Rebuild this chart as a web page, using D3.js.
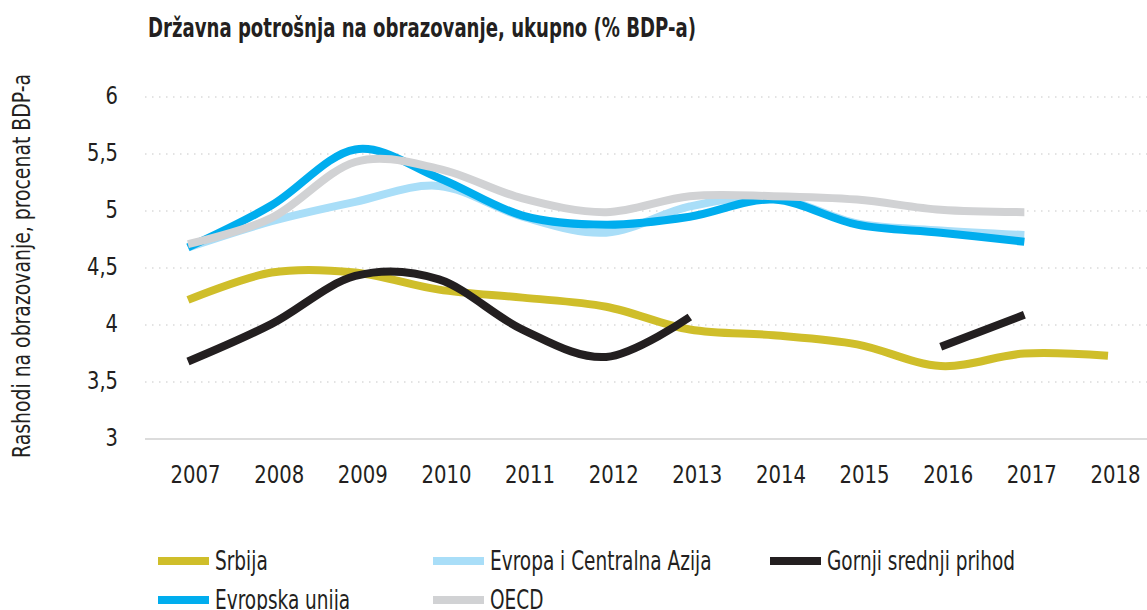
<!DOCTYPE html>
<html>
<head>
<meta charset="utf-8">
<script src="https://cdn.jsdelivr.net/npm/d3@7"></script>
<style>
body {margin:0; background:#fff}
svg text {font-family: "DejaVu Sans", sans-serif; font-stretch: condensed; fill:#231f20}
</style>
</head>
<body>
<svg id="chart" width="1147" height="610"></svg>
<script>
/*** Data ***/
var years = [2007, 2008, 2009, 2010, 2011, 2012, 2013, 2014, 2015, 2016, 2017, 2018]
var yTicks = [3, 3.5, 4, 4.5, 5, 5.5, 6]

var srbija  = [4.22, 4.46, 4.46, 4.31, 4.24, 4.16, 3.96, 3.91, 3.83, 3.64, 3.75, 3.73]
var evropaCA = [4.68, 4.91, 5.08, 5.22, 4.95, 4.81, 5.04, 5.12, 4.89, 4.83, 4.79, null]
var gornji  = [3.68, 4.01, 4.43, 4.40, 3.96, 3.72, 4.07, null, null, 3.81, 4.09, null]
var eu      = [4.68, 5.05, 5.54, 5.29, 4.96, 4.88, 4.95, 5.10, 4.88, 4.81, 4.73, null]
var oecd    = [4.71, 4.94, 5.43, 5.37, 5.11, 4.99, 5.13, 5.13, 5.10, 5.01, 4.99, null]

var series = [
	{name: "Srbija", values: srbija, color: "#cfbe2a"},
	{name: "Evropa i Centralna Azija", values: evropaCA, color: "#a9def8"},
	{name: "Gornji srednji prihod", values: gornji, color: "#231f20"},
	{name: "Evropska unija", values: eu, color: "#00adee"},
	{name: "OECD", values: oecd, color: "#d1d2d4"}
]
// legend layout order (row by row)
var legendOrder = ["Srbija", "Evropa i Centralna Azija", "Gornji srednji prihod", "Evropska unija", "OECD"]

/*** Utils ***/
// squeeze text horizontally so it looks like the condensed face of the original
function squeeze(sel, k) {
	sel.each(function() {
		var w = this.getComputedTextLength()
		d3.select(this).attr("textLength", w * k).attr("lengthAdjust", "spacingAndGlyphs")
	})
}
function widthOf(sel, txt, size) {
	var t = sel.append("text").attr("font-size", size).text(txt)
	var w = t.node().getComputedTextLength()
	t.remove()
	return w
}

/*** Chart ***/
var svg = d3.select("#chart")
var x = d3.scalePoint().domain(years).range([188, 1108])
var y = d3.scaleLinear().domain([3, 6]).range([439, 97])

svg.append("text")
   .attr("x", 148).attr("y", 37)
   .attr("font-size", 26).attr("font-weight", "bold")
   .attr("textLength", 548).attr("lengthAdjust", "spacingAndGlyphs")
   .text("Državna potrošnja na obrazovanje, ukupno (% BDP-a)")

svg.append("text")
   .attr("transform", "translate(30,266) rotate(-90)")
   .attr("text-anchor", "middle")
   .attr("font-size", 24)
   .attr("fill", "#333")
   .attr("textLength", 384).attr("lengthAdjust", "spacingAndGlyphs")
   .text("Rashodi na obrazovanje, procenat BDP-a")

// grid
var g = svg.append("g")
g.selectAll("line.grid")
 .data(yTicks.filter((d) => d > 3))
 .enter().append("line")
 .attr("class", "grid")
 .attr("x1", 145).attr("x2", 1147)
 .attr("y1", (d) => y(d)).attr("y2", (d) => y(d))
 .attr("stroke", "#c8c8c8").attr("stroke-width", 1.2)
 .attr("stroke-dasharray", "1.5,5.5")
g.append("line")
 .attr("x1", 145).attr("x2", 1147)
 .attr("y1", y(3)).attr("y2", y(3))
 .attr("stroke", "#dcdcdc").attr("stroke-width", 2)

var fs = 25
var fmt = (d) => String(d).replace(".", ",")
var ya = svg.append("g")
            .attr("transform", "translate(118,0)")
            .call(d3.axisLeft(y).tickValues(yTicks).tickFormat(fmt).tickSize(0))
ya.select(".domain").remove()
ya.selectAll("text").attr("font-size", fs).attr("fill", "#333").attr("x", 0).attr("dy", "0.25em")
  .attr("font-family", null)
squeeze(ya.selectAll("text"), 31 / widthOf(svg, "5,5", fs))

var xa = svg.append("g")
            .attr("transform", "translate(7,474)")
            .call(d3.axisBottom(x).tickFormat(d3.format("d")).tickSize(0))
xa.select(".domain").remove()
xa.selectAll("text").attr("font-size", fs).attr("fill", "#333").attr("y", 0).attr("dy", "0.36em")
  .attr("font-family", null)
squeeze(xa.selectAll("text"), 50 / widthOf(svg, "2007", fs))

// lines
var line = d3.line()
             .defined((d) => d != null)
             .x((d, i) => x(years[i]))
             .y((d) => y(d))
             .curve(d3.curveCardinal.tension(0))

svg.append("g").selectAll("path")
   .data(series)
   .enter().append("path")
   .attr("d", (s) => line(s.values))
   .attr("fill", "none")
   .attr("stroke", (s) => s.color)
   .attr("stroke-width", 8)

// legend
var cols = [158, 433, 770]
var lg = svg.append("g").selectAll("g")
            .data(legendOrder.map((n) => series.find((s) => s.name == n)))
            .enter().append("g")
            .attr("transform", (d, i) => "translate(" + cols[i % 3] + "," + (561 + Math.floor(i / 3) * 39) + ")")
lg.append("rect")
  .attr("x", 0).attr("y", -4).attr("width", 51).attr("height", 8)
  .attr("fill", (d) => d.color)
var lt = lg.append("text")
  .attr("x", 57).attr("dy", "0.36em")
  .attr("font-size", 26).attr("fill", "#333")
  .text((d) => d.name)
var gw = lt.filter((d) => d.name == "Gornji srednji prihod").node().getComputedTextLength()
squeeze(lt, 188 / gw)
</script>
</body>
</html>
